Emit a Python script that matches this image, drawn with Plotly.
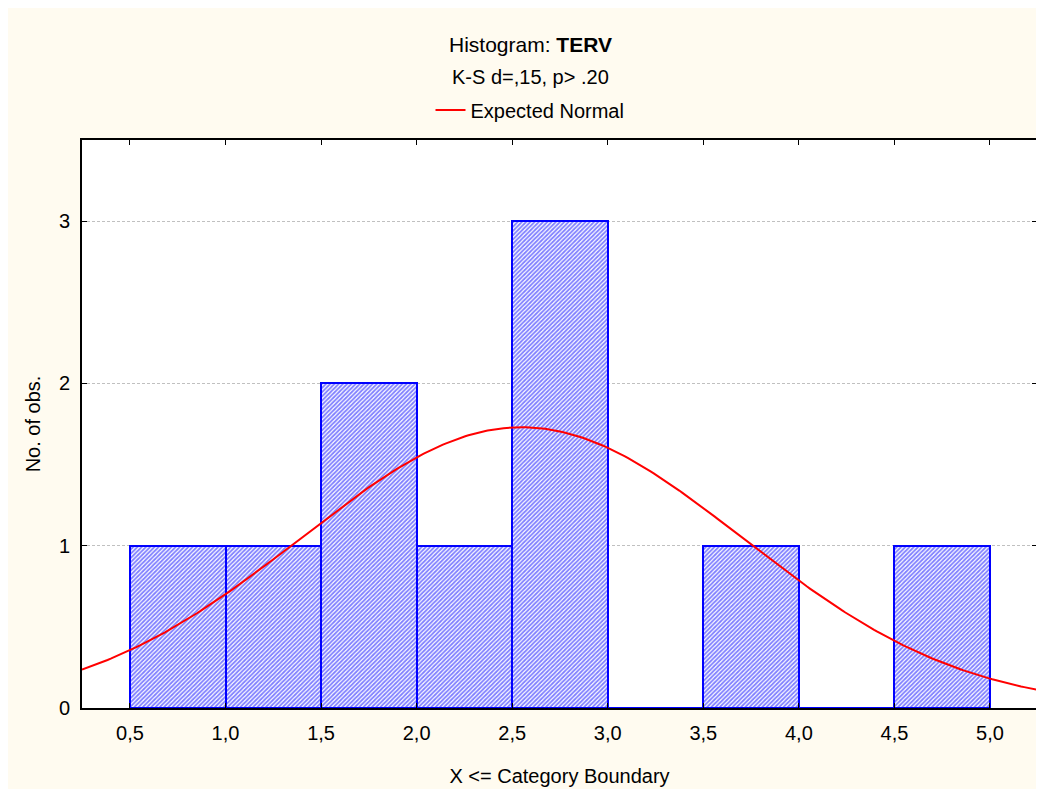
import numpy as np
import plotly.graph_objects as go

# Data
bin_edges = [0.5, 1.0, 1.5, 2.0, 2.5, 3.0, 3.5, 4.0, 4.5, 5.0]
counts = [1, 1, 2, 1, 3, 0, 1, 0, 1]
tick_vals = [0.5, 1.0, 1.5, 2.0, 2.5, 3.0, 3.5, 4.0, 4.5, 5.0]
tick_text = ["0,5", "1,0", "1,5", "2,0", "2,5", "3,0", "3,5", "4,0", "4,5", "5,0"]
y_ticks = [0, 1, 2, 3]
normal_mean = 2.55
normal_sd = 1.153
n_obs = sum(counts)
bin_width = 0.5

x_range = [0.249, 5.246]
y_range = [0, 3.5]
mids = [(bin_edges[i] + bin_edges[i + 1]) / 2 for i in range(len(counts))]

xs = np.linspace(x_range[0], x_range[1], 300)
ys = n_obs * bin_width * np.exp(-0.5 * ((xs - normal_mean) / normal_sd) ** 2) / (normal_sd * np.sqrt(2 * np.pi))

FONT = "Liberation Sans, Arial, sans-serif"
FS = 20
W, H = 1044, 789
ML, MR, MT, MB = 74, 15, 132, 89
plot_w = W - ML - MR
plot_h = H - MT - MB
cx = (W / 2 - ML) / plot_w


def py(fig_y):
    return 1 + (MT - fig_y) / plot_h


fig = go.Figure()
fig.add_trace(go.Bar(
    x=mids, y=counts, width=bin_width,
    marker=dict(color="white",
                line=dict(color="#0000ff", width=2),
                pattern=dict(shape="/", fgcolor="#0000ff", bgcolor="white", size=3, solidity=0.6)),
    showlegend=False, hoverinfo="skip",
))
fig.add_trace(go.Scatter(
    x=xs, y=ys, mode="lines", line=dict(color="#ff0000", width=2),
    name="Expected Normal", showlegend=True,
))

fig.update_layout(
    width=W, height=H,
    paper_bgcolor="#fffbf0", plot_bgcolor="white",
    margin=dict(l=ML, r=MR, t=MT, b=MB, autoexpand=False),
    font=dict(family=FONT, size=FS, color="black"),
    bargap=0,
    showlegend=True,
    legend=dict(orientation="h", x=cx, xanchor="center",
                yref="paper", y=py(102), yanchor="middle",
                bgcolor="rgba(0,0,0,0)", font=dict(size=FS)),
    annotations=[
        dict(text="Histogram: <b>TERV</b>", x=cx, xref="paper", y=py(36), yref="paper",
             yanchor="middle", showarrow=False, font=dict(size=FS + 1)),
        dict(text="K-S d=,15, p> .20", x=cx, xref="paper", y=py(69), yref="paper",
             yanchor="middle", showarrow=False, font=dict(size=FS)),
    ],
)

fig.update_xaxes(
    range=x_range, tickvals=tick_vals, ticktext=tick_text,
    showgrid=False, zeroline=False, automargin=False,
    showline=True, linecolor="black", linewidth=2, mirror="ticks",
    ticks="inside", ticklen=5, tickcolor="black", ticklabelstandoff=6,
    title=dict(text="X <= Category Boundary", font=dict(size=FS), standoff=26),
)
fig.update_yaxes(
    range=y_range, tickvals=y_ticks,
    showgrid=True, gridcolor="#c0c0c0", griddash="3px,2px", gridwidth=1,
    zeroline=False, automargin=False,
    showline=True, linecolor="black", linewidth=2, mirror="ticks",
    ticks="inside", ticklen=5, tickcolor="black", ticklabelstandoff=6,
    title=dict(text="No. of obs.", font=dict(size=FS), standoff=13),
)

fig.write_html("out.html")
